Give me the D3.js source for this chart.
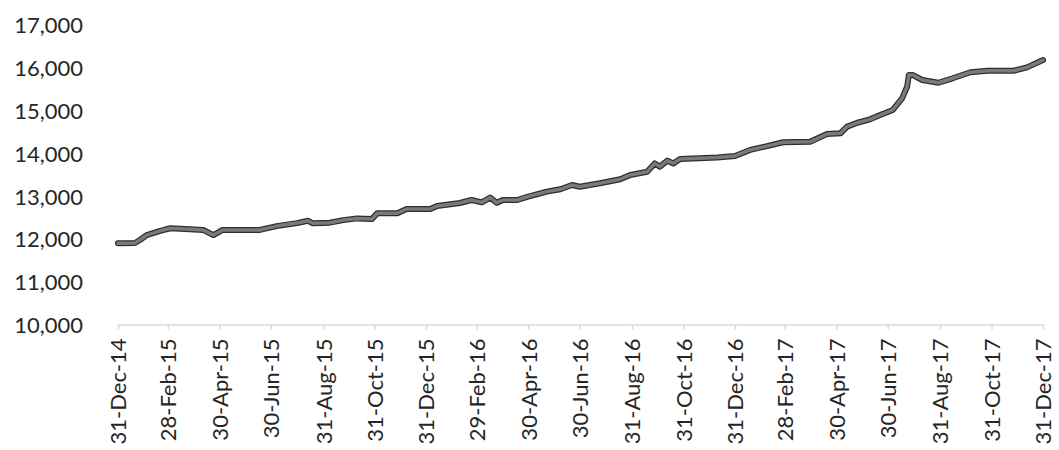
<!DOCTYPE html>
<html>
<head>
<meta charset="utf-8">
<script src="https://cdn.jsdelivr.net/npm/d3@7"></script>
<style>
  html, body { margin: 0; padding: 0; background: #fff; }
  svg { display: block; }
  text { font-family: Lato, "Open Sans", sans-serif; fill: #262626; }
</style>
</head>
<body>
<div id="chart"></div>
<script>
// values
const dates = [
  '2014-12-31', '2015-01-20', '2015-01-26', '2015-02-03', '2015-02-19', '2015-03-03',
  '2015-03-26', '2015-04-11', '2015-04-23', '2015-05-04', '2015-06-17', '2015-07-07',
  '2015-07-31', '2015-08-13', '2015-08-19', '2015-09-08', '2015-09-24', '2015-10-10',
  '2015-10-28', '2015-11-03', '2015-11-27', '2015-12-08', '2016-01-05', '2016-01-13',
  '2016-02-09', '2016-02-23', '2016-03-06', '2016-03-16', '2016-03-24', '2016-03-31',
  '2016-04-17', '2016-04-29', '2016-05-22', '2016-06-07', '2016-06-21', '2016-06-30',
  '2016-07-24', '2016-08-17', '2016-08-29', '2016-09-18', '2016-09-27', '2016-10-03',
  '2016-10-12', '2016-10-19', '2016-10-27', '2016-12-10', '2016-12-31', '2017-01-18',
  '2017-02-07', '2017-02-26', '2017-03-30', '2017-04-19', '2017-05-05', '2017-05-13',
  '2017-05-25', '2017-06-09', '2017-06-21', '2017-07-06', '2017-07-17', '2017-07-23',
  '2017-07-25', '2017-07-30', '2017-08-10', '2017-08-29', '2017-09-15', '2017-10-06',
  '2017-10-26', '2017-11-26', '2017-12-12', '2017-12-31',
]

const values = [
  11900, 11905, 11975, 12090, 12190, 12250,
  12225, 12210, 12090, 12210, 12210, 12300,
  12370, 12425, 12365, 12380, 12440, 12480,
  12465, 12600, 12600, 12700, 12700, 12770,
  12840, 12910, 12855, 12965, 12845, 12910,
  12910, 12985, 13105, 13160, 13260, 13220,
  13300, 13395, 13495, 13570, 13765, 13690,
  13830, 13765, 13870, 13905, 13940, 14080,
  14170, 14260, 14270, 14450, 14470, 14625,
  14715, 14795, 14895, 15015, 15285, 15555,
  15830, 15830, 15715, 15650, 15755, 15895,
  15930, 15930, 16010, 16180,
]

const yTicks = [10000, 11000, 12000, 13000, 14000, 15000, 16000, 17000]

const xTicks = [
  '2014-12-31', '2015-02-28', '2015-04-30', '2015-06-30', '2015-08-31', '2015-10-31',
  '2015-12-31', '2016-02-29', '2016-04-30', '2016-06-30', '2016-08-31', '2016-10-31',
  '2016-12-31', '2017-02-28', '2017-04-30', '2017-06-30', '2017-08-31', '2017-10-31',
  '2017-12-31',
]

const W = 1059
const H = 450
const margin = { top: 25, right: 16, bottom: 125.5, left: 118 }

const parse = d3.timeParse('%Y-%m-%d')
const series = dates.map((d, i) => ({ date: parse(d), value: values[i] }))

const x = d3.scaleTime()
  .domain([parse(xTicks[0]), parse(xTicks[xTicks.length - 1])])
  .range([margin.left, W - margin.right])

const y = d3.scaleLinear()
  .domain([10000, 17000])
  .range([H - margin.bottom, margin.top])

const svg = d3.select('#chart')
  .append('svg')
  .attr('width', W)
  .attr('height', H)

// y labels only, no axis line and no gridlines
svg.append('g')
  .attr('transform', `translate(83,0)`)
  .call(d3.axisLeft(y).tickValues(yTicks).tickFormat(d3.format(',')).tickSize(0).tickPadding(0))
  .call(g => g.select('.domain').remove())
  .call(g => g.selectAll('text')
    .attr('font-size', 22)
    .attr('dy', '0.36em'))

// x axis: light grey baseline with short ticks, rotated date labels
const fmt = d3.timeFormat('%d-%b-%y')
svg.append('g')
  .attr('transform', `translate(0,${y(10000)})`)
  .call(d3.axisBottom(x).tickValues(xTicks.map(parse)).tickFormat(fmt).tickSize(5).tickSizeOuter(0))
  .call(g => g.select('.domain').attr('stroke', '#d9d9d9').attr('stroke-width', 1.5))
  .call(g => g.selectAll('.tick line').attr('stroke', '#d9d9d9').attr('stroke-width', 1.5))
  .call(g => g.selectAll('text')
    .attr('font-size', 22)
    .attr('text-anchor', 'end')
    .attr('transform', 'rotate(-90)')
    .attr('x', -14)
    .attr('y', 0)
    .attr('dy', '0.36em'))

const line = d3.line()
  .x(d => x(d.date))
  .y(d => y(d.value))
  .curve(d3.curveLinear)

// dark edge under a grey core, like the scanned stroke
svg.append('path')
  .datum(series)
  .attr('fill', 'none')
  .attr('stroke', '#2e2e2e')
  .attr('stroke-width', 6)
  .attr('stroke-linejoin', 'round')
  .attr('stroke-linecap', 'round')
  .attr('d', line)

svg.append('path')
  .datum(series)
  .attr('fill', 'none')
  .attr('stroke', '#7a7a7a')
  .attr('stroke-width', 3.5)
  .attr('stroke-linejoin', 'round')
  .attr('stroke-linecap', 'round')
  .attr('d', line)
</script>
</body>
</html>
